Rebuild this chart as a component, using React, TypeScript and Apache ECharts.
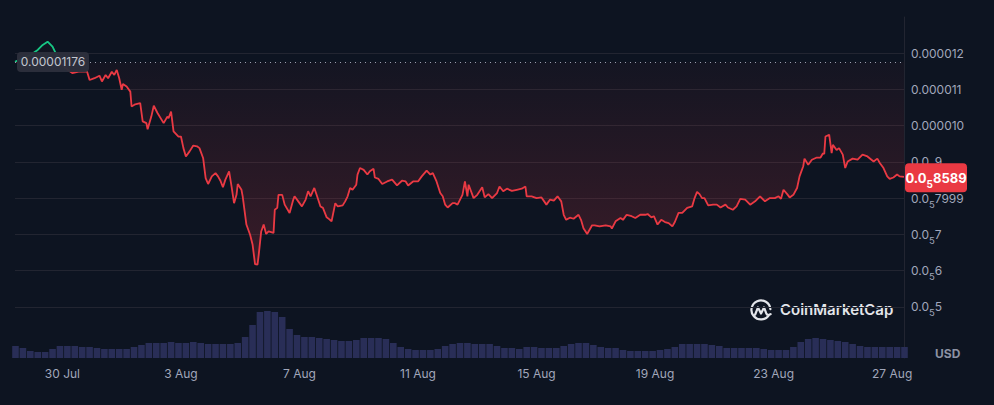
import React, { useEffect, useRef } from "react";
import * as echarts from "echarts";

// Hours since 28 Jul 00:00 and price in micro-USD (1e-6 USD)
const priceHours = [
  9.6, 15, 22, 28, 32, 36, 38, 40, 44, 50, 56, 62, 68, 70, 74, 78, 80, 83, 85, 88, 90, 92, 94, 96, 97,
  100, 103, 104, 107, 111, 113, 116, 117, 120, 122, 125, 130, 133, 134, 136, 138, 142, 144, 146, 148,
  151, 154, 157, 159, 162, 164, 166, 169, 172, 174, 176, 178, 180, 183, 185, 187, 189, 190, 193, 194,
  197, 200, 202, 204, 206, 207, 209, 211, 213, 215, 217, 219, 220, 222, 223, 226, 228, 232, 235, 236,
  239, 242, 245, 247, 249, 252, 254, 257, 259, 262, 264, 266, 269, 271, 275, 277, 279, 281, 283, 286,
  287, 289, 292, 295, 297, 300, 301, 304, 307, 311, 315, 319, 323, 326, 328, 332, 336, 339, 343, 346,
  348, 351, 354, 356, 358, 360, 364, 366, 368, 372, 374, 376, 377, 381, 384, 388, 390, 393, 396, 400,
  402, 405, 408, 412, 416, 420, 423, 424, 428, 432, 436, 440, 443, 446, 449, 452, 454, 456, 459, 462,
  466, 468, 470, 473, 477, 479, 483, 488, 492, 493, 496, 500, 502, 505, 509, 512, 516, 520, 522, 525,
  527, 530, 533, 536, 539, 542, 544, 547, 550, 554, 558, 560, 562, 564, 566, 568, 571, 575, 578, 581,
  585, 587, 591, 594, 597, 601, 605, 609, 613, 617, 621, 625, 628, 630, 632, 635, 637, 640, 643, 645,
  648, 649, 652, 655, 659, 662, 664, 665, 666, 669, 671, 672, 675, 677, 680, 682, 684, 688, 692, 696,
  700, 705, 708, 710, 713, 716, 718, 721, 724, 726, 729.6,
];
const priceMicroUsd = [
  11.76, 11.85, 11.95, 12.09, 12.23, 12.32, 12.25, 12.18, 11.9, 11.6, 11.45, 11.5, 11.49, 11.26, 11.31, 11.38, 11.22, 11.4, 11.31, 11.49, 11.4, 11.54, 11.31, 10.99, 11.15,
  11.08, 10.94, 10.53, 10.59, 10.62, 10.12, 10.07, 9.9, 10.25, 10.55, 10.35, 10.07, 10.25, 10.21, 10.39, 9.84, 9.7, 9.7, 9.38, 9.15,
  9.29, 9.45, 9.43, 9.38, 9.1, 8.55, 8.39, 8.6, 8.69, 8.6, 8.48, 8.3, 8.51, 8.74, 8.32, 7.86, 8.09, 8.39, 8.23, 8.05,
  7.27, 6.99, 6.72, 6.18, 6.16, 6.44, 7.08, 7.27, 7.01, 7.08, 7.06, 7.04, 7.68, 7.73, 8.09, 8.09, 7.82, 7.59, 7.96, 8.05,
  7.91, 7.77, 7.96, 8.19, 8.05, 8.28, 8.08, 7.77, 7.73, 7.47, 7.42, 7.36, 7.86, 7.77, 7.8, 7.91, 8.05, 8.28, 8.23, 8.37,
  8.65, 8.83, 8.78, 8.65, 8.74, 8.81, 8.57, 8.53, 8.39, 8.46, 8.51, 8.35, 8.48, 8.46, 8.35, 8.46, 8.46, 8.6, 8.76, 8.65,
  8.69, 8.46, 8.14, 8.05, 7.82, 7.74, 7.86, 7.86, 7.82, 8.09, 8.46, 8.05, 8.37, 8.0, 8.09, 8.3, 8.02, 8.11, 8.0, 8.14,
  8.32, 8.19, 8.26, 8.2, 8.23, 8.26, 8.32, 8.05, 8.05, 8.0, 8.02, 7.82, 7.96, 7.93, 8.05, 7.91, 7.54, 7.4, 7.46, 7.43,
  7.54, 7.4, 7.17, 7.01, 7.25, 7.25, 7.22, 7.25, 7.22, 7.16, 7.36, 7.45, 7.4, 7.54, 7.5, 7.45, 7.54, 7.54, 7.56, 7.47,
  7.5, 7.27, 7.4, 7.34, 7.31, 7.22, 7.34, 7.59, 7.59, 7.73, 7.77, 8.0, 8.17, 8.11, 8.0, 8.0, 7.8, 7.82, 7.82, 7.74,
  7.82, 7.74, 7.68, 7.77, 7.98, 7.96, 7.82, 7.91, 8.05, 7.91, 8.0, 8.0, 8.05, 7.98, 8.23, 8.11, 8.02, 8.09, 8.28, 8.6,
  8.88, 9.09, 8.92, 9.06, 9.12, 9.12, 9.24, 9.22, 9.7, 9.75, 9.24, 9.47, 9.33, 9.38, 9.2, 8.83, 9.01, 9.09, 9.06, 9.2,
  9.15, 9.01, 9.09, 8.97, 8.83, 8.6, 8.53, 8.57, 8.65, 8.6, 8.589,
];

// Volume (arbitrary units), one bar every 6 hours starting at hour 10
const volumeFirstHour = 10;
const volumeStepHours = 6;
const volumeValues = [
  12, 10, 7, 6, 6, 9, 12, 12, 12, 11, 11, 10, 9, 9, 9, 9, 11, 13, 15, 15,
  15, 16, 15, 15, 16, 15, 14, 14, 14, 14, 15, 21, 33, 46, 47, 46, 41, 29, 23, 21,
  21, 20, 19, 18, 17, 17, 18, 20, 20, 20, 19, 15, 11, 9, 8, 8, 8, 9, 12, 14,
  15, 15, 14, 14, 14, 12, 10, 10, 9, 11, 11, 10, 10, 10, 12, 14, 15, 15, 13, 11,
  10, 10, 8, 7, 7, 7, 7, 8, 9, 11, 14, 14, 14, 14, 13, 12, 10, 10, 10, 10,
  10, 9, 8, 8, 8, 11, 16, 19, 20, 19, 18, 17, 16, 14, 12, 11, 11, 11, 11, 11, 11,
];

const xTickHours = [48, 144, 240, 336, 432, 528, 624, 720];
const xTickLabels = ["30 Jul", "3 Aug", "7 Aug", "11 Aug", "15 Aug", "19 Aug", "23 Aug", "27 Aug"];
const yTickValues = [5, 6, 7, 8, 9, 10, 11, 12];
const yTickLabels = ["0.0₅5", "0.0₅6", "0.0₅7", "0.0₅7999", "0.0₅9", "0.000010", "0.000011", "0.000012"];
const openPrice = 11.76;
const openLabel = "0.00001176";
const lastLabel = "0.0₅8589";
const currencyLabel = "USD";
const brandLabel = "CoinMarketCap";

const toRich = (s: string) => s.replace("₅", "{s|5}");

const FONT = 'Inter, "Noto Sans", sans-serif';
const RED = "#ea3943";
const GREEN = "#16c784";
const GRIDLINE = "#222531";
const LABEL = "#a1a7bb";

const roundedBox = (w: number, h: number, r: number) =>
  `path://M${r},0 H${w - r} A${r},${r} 0 0 1 ${w},${r} V${h - r} A${r},${r} 0 0 1 ${w - r},${h} H${r} A${r},${r} 0 0 1 0,${h - r} V${r} A${r},${r} 0 0 1 ${r},0 Z`;

echarts.graphic.registerShape(
  "cmcLogo",
  echarts.graphic.extendPath(
    "M20.2 15.6 A9.5 9.5 0 1 1 21.4 10.2 M6.2 15.5 L9 8.4 L12 14.6 L15 8.4 L17.2 14.2 Q18.6 17.4 21.6 15.2",
    {}
  )
);

export default function App() {
  const ref = useRef<HTMLDivElement>(null);
  useEffect(() => {
    if (!ref.current) return;
    const chart = echarts.init(ref.current, undefined, { renderer: "svg" });
    const priceData = priceHours.map((h, i) => [h, priceMicroUsd[i]]);
    const volumeData = volumeValues.map((v, i) => [volumeFirstHour + i * volumeStepHours, v]);
    const lastH = priceHours[priceHours.length - 1];
    const lastV = priceMicroUsd[priceMicroUsd.length - 1];
    const subStyle = { fontSize: 9.5, padding: [12, 0, 0, 0], color: LABEL, fontFamily: FONT };

    chart.setOption({
      animation: false,
      backgroundColor: "#0d1421",
      textStyle: { fontFamily: FONT },
      grid: [
        { left: 15, right: 90, top: 17, height: 326 },
        { left: 15, right: 90, top: 300, height: 58 },
      ],
      xAxis: [
        { type: "value", gridIndex: 0, min: 9.6, max: 729.6, show: false },
        {
          type: "value",
          gridIndex: 1,
          min: 9.6,
          max: 729.6,
          axisLine: { show: false },
          axisTick: { show: false },
          splitLine: { show: false },
          axisLabel: {
            customValues: xTickHours,
            formatter: (v: number) => {
              const i = xTickHours.indexOf(Math.round(v));
              return i >= 0 ? xTickLabels[i] : "";
            },
            color: LABEL,
            fontSize: 12,
            fontFamily: FONT,
            margin: 9,
          },
        },
      ],
      yAxis: [
        {
          type: "value",
          gridIndex: 0,
          position: "right",
          min: 4,
          max: 13,
          interval: 1,
          axisLine: { show: true, lineStyle: { color: GRIDLINE } },
          axisTick: { show: false },
          splitLine: { show: true, showMinLine: false, showMaxLine: false, lineStyle: { color: GRIDLINE } },
          axisLabel: {
            showMinLabel: false,
            showMaxLabel: false,
            margin: 7,
            color: LABEL,
            fontSize: 12,
            fontFamily: FONT,
            formatter: (v: number) => {
              const i = yTickValues.findIndex((t) => Math.abs(t - v) < 1e-6);
              return i >= 0 ? toRich(yTickLabels[i]) : "";
            },
            rich: { s: subStyle },
          },
        },
        {
          type: "value",
          gridIndex: 1,
          position: "right",
          min: 0,
          max: 58,
          axisLine: { show: true, lineStyle: { color: GRIDLINE } },
          axisTick: { show: false },
          axisLabel: { show: false },
          splitLine: { show: false },
        },
      ],
      visualMap: {
        type: "piecewise",
        show: false,
        seriesIndex: 0,
        dimension: 1,
        pieces: [
          { gte: 0, lt: openPrice, color: RED },
          { gte: openPrice, lt: 100, color: GREEN },
        ],
      },
      series: [
        {
          type: "line",
          xAxisIndex: 0,
          yAxisIndex: 0,
          data: priceData,
          showSymbol: false,
          lineStyle: { width: 1.8 },
          areaStyle: {
            origin: openPrice,
            color: new echarts.graphic.LinearGradient(0, 0, 0, 1, [
              { offset: 0, color: "rgba(234,57,67,0.02)" },
              { offset: 1, color: "rgba(234,57,67,0.28)" },
            ]),
          },
          z: 3,
          markLine: {
            silent: true,
            symbol: ["none", "none"],
            lineStyle: { color: "#9aa0b0", type: [1, 4], width: 1 },
            label: { show: false },
            data: [{ yAxis: openPrice }],
          },
          markPoint: {
            silent: true,
            data: [
              {
                coord: [priceHours[0], openPrice],
                symbol: roundedBox(72, 20, 4),
                symbolKeepAspect: false,
                symbolSize: [72, 20],
                symbolOffset: [38, 0],
                itemStyle: { color: "rgba(44,48,60,0.97)" },
                label: {
                  show: true,
                  formatter: () => openLabel,
                  color: "#c3c7d0",
                  fontSize: 12,
                  fontFamily: FONT,
                },
              },
              {
                coord: [lastH, lastV],
                symbol: roundedBox(62, 29, 4),
                symbolKeepAspect: false,
                symbolSize: [62, 29],
                symbolOffset: [32, 1],
                itemStyle: { color: RED },
                label: {
                  show: true,
                  formatter: () => toRich(lastLabel),
                  color: "#ffffff",
                  fontSize: 13,
                  fontWeight: "bold",
                  fontFamily: FONT,
                  rich: { s: { ...subStyle, color: "#ffffff", fontWeight: "bold", fontSize: 10 } },
                },
              },
            ],
          },
        },
        {
          type: "bar",
          xAxisIndex: 1,
          yAxisIndex: 1,
          data: volumeData,
          barWidth: 6.6,
          itemStyle: { color: "#292e57" },
          silent: true,
        },
      ],
      graphic: [
        {
          type: "cmcLogo",
          x: 749,
          y: 299,
          style: { fill: "none", stroke: "#e3e5ea", lineWidth: 2.2, lineCap: "round", lineJoin: "round" },
          silent: true,
        },
        {
          type: "text",
          left: 780,
          top: 302,
          style: { text: brandLabel, fill: "#e3e5ea", fontSize: 15, fontWeight: 600, fontFamily: FONT },
          silent: true,
        },
        {
          type: "text",
          left: 935,
          top: 347,
          style: { text: currencyLabel, fill: "#8c92a3", fontSize: 12, fontWeight: "bold", fontFamily: FONT },
          silent: true,
        },
      ],
    });
    return () => chart.dispose();
  }, []);
  return (
    <div
      ref={ref}
      style={{ position: "absolute", left: 0, top: 0, width: 994, height: 405, background: "#0d1421" }}
    />
  );
}
